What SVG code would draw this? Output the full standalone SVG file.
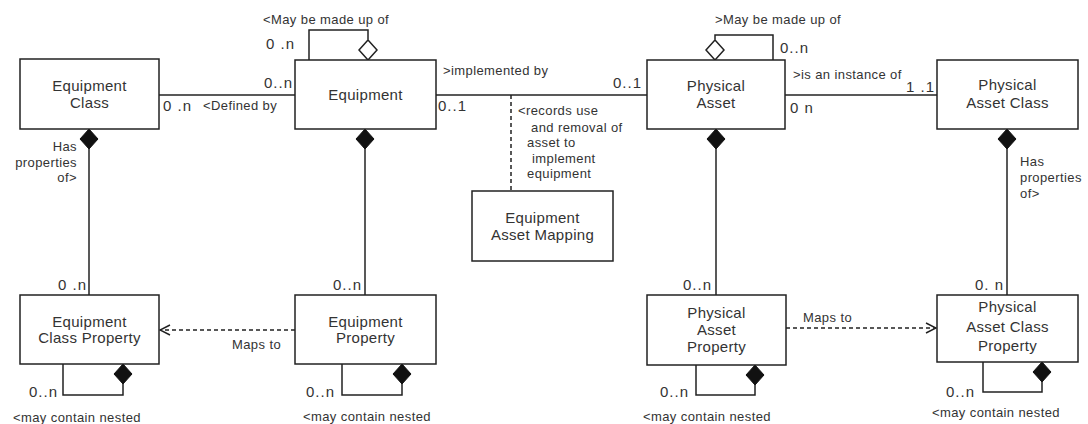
<svg xmlns="http://www.w3.org/2000/svg" width="1088" height="424" viewBox="0 0 1088 424">
<style>
.box{fill:#fff;stroke:#222;stroke-width:1.5}
.ln{fill:none;stroke:#222;stroke-width:1.5}
.dash{fill:none;stroke:#222;stroke-width:1.5;stroke-dasharray:4,3}
text{font-family:"Liberation Sans",Arial,sans-serif;fill:#333}
.nm{font-size:15px;letter-spacing:0.3px;text-anchor:middle}
.lb{font-size:13px;letter-spacing:0.4px}
.mu{font-size:15px;letter-spacing:1px}
.e{text-anchor:end}
</style>
<defs>
<marker id="fd" viewBox="0 0 20 20" refX="0" refY="10" markerWidth="20" markerHeight="20" markerUnits="userSpaceOnUse" orient="auto">
<path d="M0,10 L10,1 L20,10 L10,19 Z" fill="#111" stroke="#111" stroke-width="1"/>
</marker>
<marker id="od" viewBox="0 0 20 20" refX="0" refY="10" markerWidth="20" markerHeight="20" markerUnits="userSpaceOnUse" orient="auto">
<path d="M0,10 L10,1 L20,10 L10,19 Z" fill="#fff" stroke="#222" stroke-width="1.5"/>
</marker>
<marker id="oa" viewBox="0 0 12 12" refX="11" refY="6" markerWidth="12" markerHeight="12" markerUnits="userSpaceOnUse" orient="auto">
<path d="M1,1 L11,6 L1,11" fill="none" stroke="#222" stroke-width="1.5"/>
</marker>
</defs>

<g id="connectors">
<path class="ln" d="M159,95 H295"/>
<path class="ln" d="M436,95 H647"/>
<path class="ln" d="M785,95 H937"/>
<path class="dash" d="M511,95 V191"/>
<path class="ln" d="M89,129 V295" marker-start="url(#fd)"/>
<path class="ln" d="M365,129 V295" marker-start="url(#fd)"/>
<path class="ln" d="M716,129 V295" marker-start="url(#fd)"/>
<path class="ln" d="M1007,129 V295" marker-start="url(#fd)"/>
<path class="ln" d="M368,60 V30 H309 V60" marker-start="url(#od)"/>
<path class="ln" d="M715,60 V35 H773 V60" marker-start="url(#od)"/>
<path class="ln" d="M123,364 V395 H63 V364" marker-start="url(#fd)"/>
<path class="ln" d="M402,364 V395 H342 V364" marker-start="url(#fd)"/>
<path class="ln" d="M755,365 V395 H696 V365" marker-start="url(#fd)"/>
<path class="ln" d="M1042,362 V392 H983 V362" marker-start="url(#fd)"/>
<path class="dash" d="M295,330 H160" marker-end="url(#oa)"/>
<path class="dash" d="M786,328 H936" marker-end="url(#oa)"/>

<text class="lb" x="263" y="24">&lt;May be made up of</text>
<text class="mu" x="266" y="49">0 .n</text>
<text class="mu e" x="293" y="88">0..n</text>
<text class="mu" x="163" y="111">0 .n</text>
<text class="lb" x="203" y="109.5">&lt;Defined by</text>
<text class="lb" x="443" y="74.5">&gt;implemented by</text>
<text class="mu" x="438" y="111">0..1</text>
<text class="mu e" x="642" y="88">0..1</text>
<text class="lb" x="518" y="114.5">&lt;records use</text>
<text class="lb" x="531" y="131.5">and removal of</text>
<text class="lb" x="527" y="146.5">asset to</text>
<text class="lb" x="532" y="162.5">implement</text>
<text class="lb" x="527" y="177.5">equipment</text>
<text class="lb" x="715" y="24">&gt;May be made up of</text>
<text class="mu" x="780" y="53">0..n</text>
<text class="lb" x="793" y="78.5">&gt;is an instance of</text>
<text class="mu e" x="935" y="92">1 .1</text>
<text class="mu" x="790" y="113">0 n</text>
<text class="lb e" x="77" y="150.5">Has</text>
<text class="lb e" x="77" y="166.5">properties</text>
<text class="lb e" x="77" y="181.5">of&gt;</text>
<text class="lb" x="1020" y="165.5">Has</text>
<text class="lb" x="1020" y="181.5">properties</text>
<text class="lb" x="1020" y="197.5">of&gt;</text>
<text class="mu e" x="87" y="290">0 .n</text>
<text class="mu e" x="362" y="290">0..n</text>
<text class="mu e" x="712" y="290">0..n</text>
<text class="mu e" x="1004" y="290">0. n</text>
<text class="mu e" x="58" y="397">0..n</text>
<text class="mu e" x="335" y="397">0..n</text>
<text class="mu e" x="689" y="397">0..n</text>
<text class="mu e" x="975" y="397">0..n</text>
<text class="lb" x="13" y="422">&lt;may contain nested</text>
<text class="lb" x="303" y="421">&lt;may contain nested</text>
<text class="lb" x="643" y="421">&lt;may contain nested</text>
<text class="lb" x="932" y="417">&lt;may contain nested</text>
<text class="lb" x="232" y="348.5">Maps to</text>
<text class="lb" x="803" y="321.5">Maps to</text>
</g>

<g id="equipment-class">
<rect class="box" x="20" y="59" width="139" height="70"/>
<text class="nm" x="89.5" y="91">Equipment</text>
<text class="nm" x="89.5" y="108">Class</text>
</g>
<g id="equipment">
<rect class="box" x="295" y="60" width="141" height="69"/>
<text class="nm" x="365.5" y="100">Equipment</text>
</g>
<g id="physical-asset">
<rect class="box" x="647" y="60" width="138" height="69"/>
<text class="nm" x="716" y="91">Physical</text>
<text class="nm" x="716" y="108">Asset</text>
</g>
<g id="physical-asset-class">
<rect class="box" x="937" y="60" width="141" height="69"/>
<text class="nm" x="1007.5" y="90">Physical</text>
<text class="nm" x="1007.5" y="108">Asset Class</text>
</g>
<g id="equipment-asset-mapping">
<rect class="box" x="472" y="191" width="141" height="70"/>
<text class="nm" x="542.5" y="223">Equipment</text>
<text class="nm" x="542.5" y="240">Asset Mapping</text>
</g>
<g id="equipment-class-property">
<rect class="box" x="20" y="295" width="139" height="69"/>
<text class="nm" x="89.5" y="327">Equipment</text>
<text class="nm" x="89.5" y="343">Class Property</text>
</g>
<g id="equipment-property">
<rect class="box" x="295" y="295" width="141" height="69"/>
<text class="nm" x="365.5" y="327">Equipment</text>
<text class="nm" x="365.5" y="343">Property</text>
</g>
<g id="physical-asset-property">
<rect class="box" x="647" y="295" width="139" height="70"/>
<text class="nm" x="716.5" y="318">Physical</text>
<text class="nm" x="716.5" y="335">Asset</text>
<text class="nm" x="716.5" y="352">Property</text>
</g>
<g id="physical-asset-class-property">
<rect class="box" x="937" y="295" width="141" height="67"/>
<text class="nm" x="1007.5" y="312">Physical</text>
<text class="nm" x="1007.5" y="332">Asset Class</text>
<text class="nm" x="1007.5" y="351">Property</text>
</g>
</svg>
